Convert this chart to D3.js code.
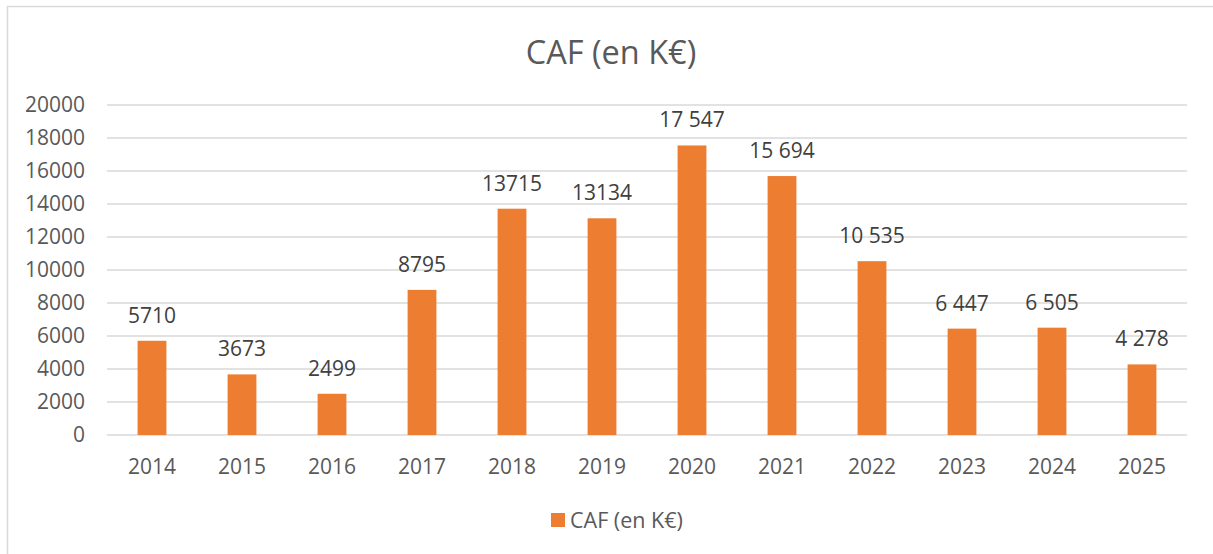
<!DOCTYPE html>
<html>
<head>
<meta charset="utf-8">
<script src="https://cdn.jsdelivr.net/npm/d3@7"></script>
<style>
  body { margin: 0; background: #fff; }
  svg text { font-family: "Open Sans", "Liberation Sans", sans-serif; }
</style>
</head>
<body>
<div id="chart"></div>
<script>
// data
const years = ["2014","2015","2016","2017","2018","2019","2020","2021","2022","2023","2024","2025"]
const caf = [5710, 3673, 2499, 8795, 13715, 13134, 17547, 15694, 10535, 6447, 6505, 4278]
const labels = ["5710","3673","2499","8795","13715","13134","17 547","15 694","10 535","6 447","6 505","4 278"]
const yTicks = [0, 2000, 4000, 6000, 8000, 10000, 12000, 14000, 16000, 18000, 20000]
const seriesName = "CAF (en K€)"

const dimensions = {
  width: 1213,
  height: 554,
  left: 107,
  right: 1187,
  top: 105,
  bottom: 435
}

const svg = d3.select("#chart")
  .append("svg")
  .attr("width", dimensions.width)
  .attr("height", dimensions.height)

// chart frame (cut off on right/bottom like the screenshot)
svg.append("rect")
  .attr("x", 7.5)
  .attr("y", 6.5)
  .attr("width", dimensions.width + 20)
  .attr("height", dimensions.height + 20)
  .attr("fill", "#fff")
  .attr("stroke", "#d9d9d9")
  .attr("stroke-width", 1.5)

// scales
const xScale = d3.scaleBand()
  .domain(years)
  .range([dimensions.left, dimensions.right])
  .paddingInner(0.68)
  .paddingOuter(0.34)

const yScale = d3.scaleLinear()
  .domain([0, 20000])
  .range([dimensions.bottom, dimensions.top])

// gridlines
svg.append("g")
  .selectAll("line")
  .data(yTicks)
  .join("line")
  .attr("x1", dimensions.left)
  .attr("x2", dimensions.right)
  .attr("y1", d => yScale(d))
  .attr("y2", d => yScale(d))
  .attr("stroke", "#d9d9d9")
  .attr("stroke-width", 1.5)

// y axis labels
const yAxis = d3.axisLeft(yScale)
  .tickValues(yTicks)
  .tickSize(0)
  .tickPadding(22)
  .tickFormat(d => d)

svg.append("g")
  .attr("transform", `translate(${dimensions.left},0)`)
  .call(yAxis)
  .call(g => g.select(".domain").remove())
  .selectAll("text")
  .style("font-size", "21px")
  .attr("fill", "#595959")

// x axis labels
const xAxis = d3.axisBottom(xScale)
  .tickSize(0)
  .tickPadding(24)

svg.append("g")
  .attr("transform", `translate(0,${dimensions.bottom})`)
  .call(xAxis)
  .call(g => g.select(".domain").remove())
  .selectAll("text")
  .style("font-size", "21px")
  .attr("fill", "#595959")

// bars
svg.append("g")
  .selectAll("rect")
  .data(caf)
  .join("rect")
  .attr("x", (d, i) => xScale(years[i]))
  .attr("y", d => yScale(d))
  .attr("width", xScale.bandwidth())
  .attr("height", d => yScale(0) - yScale(d))
  .attr("fill", "#ed7d31")

// data labels
svg.append("g")
  .selectAll("text")
  .data(caf)
  .join("text")
  .attr("x", (d, i) => xScale(years[i]) + xScale.bandwidth() / 2)
  .attr("y", d => yScale(d) - 18)
  .attr("text-anchor", "middle")
  .text((d, i) => labels[i])
  .style("font-size", "21px")
  .attr("fill", "#404040")

// title
svg.append("text")
  .attr("x", 611)
  .attr("y", 64)
  .attr("text-anchor", "middle")
  .text(seriesName)
  .style("font-size", "32.5px")
  .attr("fill", "#595959")

// legend
const legend = svg.append("g")
legend.append("rect")
  .attr("x", 551)
  .attr("y", 513)
  .attr("width", 14)
  .attr("height", 14)
  .attr("fill", "#ed7d31")
legend.append("text")
  .attr("x", 570)
  .attr("y", 528)
  .text(seriesName)
  .style("font-size", "21.5px")
  .attr("fill", "#595959")
</script>
</body>
</html>
